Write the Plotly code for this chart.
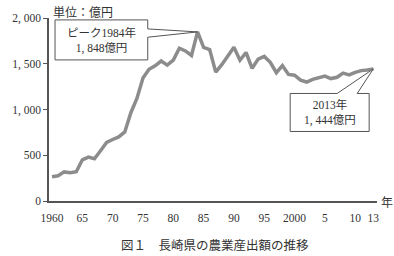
import plotly.graph_objects as go

years = list(range(1960, 2014))
values = [265, 275, 318, 310, 320, 450, 480, 462, 550, 640,
          672, 700, 755, 965, 1120, 1345, 1440, 1478, 1530, 1485,
          1540, 1670, 1640, 1590, 1848, 1680, 1655, 1409, 1490, 1587,
          1680, 1538, 1623, 1450, 1551, 1580, 1516, 1402, 1480, 1383,
          1375, 1320, 1300, 1330, 1350, 1365, 1338, 1352, 1398, 1378,
          1405, 1425, 1432, 1444]

xtick_vals = [1960, 1965, 1970, 1975, 1980, 1985, 1990, 1995, 2000, 2005, 2010, 2013]
xtick_text = ["1960", "65", "70", "75", "80", "85", "90", "95", "2000", "5", "10", "13"]
ytick_vals = [0, 500, 1000, 1500, 2000]
ytick_text = ["0", "500", "1, 000", "1, 500", "2, 000"]

peak_label = "ピーク1984年<br>1, 848億円"
last_label = "2013年<br>1, 444億円"
unit_label = "単位：億円"
x_unit = "年"
caption = "図１　長崎県の農業産出額の推移"

LAT = "Liberation Serif, Noto Sans CJK JP, serif"
JP = "Noto Sans CJK JP, sans-serif"
axis_col = "#555555"
txt_col = "#333333"

fig = go.Figure()
fig.add_trace(go.Scatter(x=years, y=values, mode="lines",
                         line=dict(color="#8c8c8c", width=3.5),
                         hoverinfo="skip", showlegend=False))

pk = values.index(max(values))
px_, py_ = years[pk], values[pk]
lx, ly = years[-1], values[-1]

shapes = [
    dict(type="path", xref="x", yref="y", xsizemode="pixel", ysizemode="pixel",
         xanchor=px_, yanchor=py_,
         path="M -142.5,12 L -49.8,12 L -49.8,3 L 0,0 L -49.8,-5.3 L -49.8,-28 L -142.5,-28 Z",
         line=dict(color="#555555", width=1), fillcolor="white", layer="above"),
    dict(type="path", xref="x", yref="y", xsizemode="pixel", ysizemode="pixel",
         xanchor=lx, yanchor=ly,
         path="M -83.2,-24.6 L -36.2,-24.6 L 0,0 L -16.2,-24.6 L -4.2,-24.6 L -4.2,-62.6 L -83.2,-62.6 Z",
         line=dict(color="#555555", width=1), fillcolor="white", layer="above"),
]

annotations = [
    dict(x=px_, y=py_, xref="x", yref="y", text=peak_label, showarrow=False,
         xshift=-96, yshift=-9, font=dict(family=LAT, size=11.5, color=txt_col),
         align="center"),
    dict(x=lx, y=ly, xref="x", yref="y", text=last_label, showarrow=False,
         xshift=-43.7, yshift=-44, font=dict(family=LAT, size=11.5, color=txt_col),
         align="center"),
    dict(x=0.005, y=1, xref="paper", yref="paper", text=unit_label, showarrow=False,
         xanchor="left", yanchor="middle", yshift=7,
         font=dict(family=JP, size=12, color=txt_col)),
    dict(x=1, y=0, xref="paper", yref="paper", text=x_unit, showarrow=False,
         xanchor="center", yanchor="middle", xshift=10,
         font=dict(family=JP, size=12, color=txt_col)),
    dict(x=200 / 394, y=0, xref="paper", yref="paper", text=caption, showarrow=False,
         xanchor="center", yanchor="middle", yshift=-43,
         font=dict(family=JP, size=12.5, color=txt_col)),
]

fig.update_layout(
    width=394, height=256,
    margin=dict(l=49, r=17, t=14, b=55),
    paper_bgcolor="white", plot_bgcolor="white",
    shapes=shapes, annotations=annotations,
    xaxis=dict(range=[1959.5, 2013.6], tickvals=xtick_vals, ticktext=xtick_text,
               showline=True, linecolor=axis_col, linewidth=1.5, showgrid=False,
               zeroline=False, ticks="", ticklabelstandoff=5,
               tickfont=dict(family=LAT, size=11.5, color=txt_col)),
    yaxis=dict(range=[0, 2000], tickvals=ytick_vals, ticktext=ytick_text,
               showline=True, linecolor=axis_col, linewidth=1.5, showgrid=False,
               zeroline=False, ticks="outside", ticklen=4, tickcolor=axis_col,
               tickfont=dict(family=LAT, size=11.5, color=txt_col)),
)

fig.write_html("out.html")
